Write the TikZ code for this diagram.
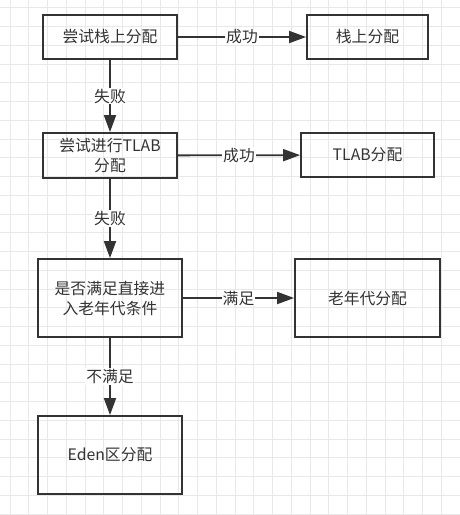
\documentclass[tikz,border=0pt]{standalone}
\usepackage{fontspec}
\setmainfont{Noto Sans CJK SC}
\usetikzlibrary{arrows.meta}
\definecolor{ink}{HTML}{333333}
\tikzset{
  stepbox/.style={draw=ink, line width=1.8pt, text=ink, inner sep=0pt, align=center,
    font=\fontsize{15.8}{20}\selectfont},
  flow/.style={draw=ink, line width=1.8pt, -{Triangle[length=17pt,width=12pt]}},
  lbl/.style={fill=white, text=ink, inner sep=1pt, font=\fontsize{15.8}{20}\selectfont}
}
\begin{document}
\begin{tikzpicture}[x=1pt,y=-1pt]
      \useasboundingbox (0,0) rectangle (460,515);
      % grid
      \foreach \k in {0,...,24} \draw[black!9, line width=1pt] (10+18.75*\k,0) -- (10+18.75*\k,515);
      \foreach \k in {0,...,27} \draw[black!9, line width=1pt] (0,7.75+18.75*\k) -- (460,7.75+18.75*\k);

      \node[stepbox, minimum width=134pt, minimum height=44pt] (stack) at (110,37) {尝试栈上分配};
      \node[stepbox, minimum width=121pt, minimum height=44pt] (stackok) at (367.5,37) {栈上分配};
      \node[stepbox, minimum width=134pt, minimum height=45pt] (tlab) at (110,155.5) {尝试进行TLAB\\分配};
      \node[stepbox, minimum width=133pt, minimum height=44pt] (tlabok) at (367.5,155) {TLAB分配};
      \node[stepbox, minimum width=144pt, minimum height=78pt] (old) at (110,298) {是否满足直接进\\入老年代条件};
      \node[stepbox, minimum width=145pt, minimum height=78pt] (oldok) at (367.5,298) {老年代分配};
      \node[stepbox, minimum width=144pt, minimum height=78pt] (eden) at (110,455) {Eden区分配};

      \draw[flow] (stack) -- node[lbl] {成功} (stackok);
      \draw[flow] (stack) -- node[lbl] {失败} (tlab);
      \draw[flow] (tlab) -- node[lbl] {成功} (tlabok);
      \draw[flow] (tlab) -- node[lbl] {失败} (old);
      \draw[flow] (old) -- node[lbl] {满足} (oldok);
      \draw[flow] (old) -- node[lbl] {不满足} (eden);
\end{tikzpicture}
\end{document}
